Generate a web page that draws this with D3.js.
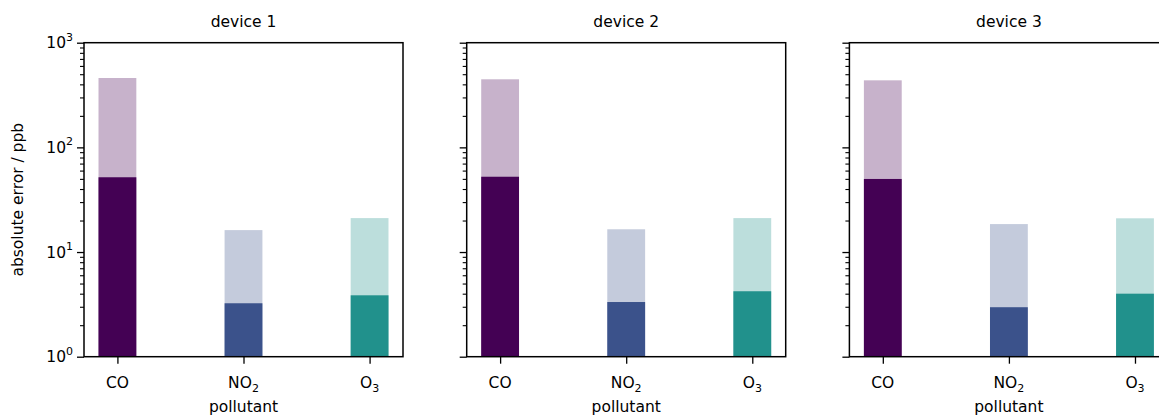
<!DOCTYPE html>
<html>
<head>
<meta charset="UTF-8">
<style>
  body { margin: 0; background: #fff; }
  svg { font-family: "DejaVu Sans", sans-serif; }
  .domain { display: none; }
</style>
</head>
<body>
<svg id="chart" width="1159" height="417"></svg>
<script src="https://d3js.org/d3.v7.min.js"></script>
<script>
  // data
  const devices = ["device 1", "device 2", "device 3"];
  const pollutants = ["CO", "NO2", "O3"];
  const colors = ["#440154", "#3b528b", "#21918c"];
  const totalErr = [
    [460, 16.2, 21.1],
    [447, 16.5, 21.1],
    [437, 18.5, 21.0]
  ];
  const partErr = [
    [51.8, 3.24, 3.86],
    [52.4, 3.33, 4.22],
    [49.9, 2.97, 4.0]
  ];
  const yTicks = [1, 10, 100, 1000];

  let svg = d3.select("#chart");

  let left0 = 84, top0 = 42.7, panelW = 319, panelH = 314, step = 382.7;
  let barW = 0.3;
  let fs = "15.5px";

  let x = d3.scaleLinear().domain([-0.265, 2.265]).range([0, panelW]);
  let y = d3.scaleLog().domain([1, 1000]).range([panelH, 0]);

  let minorTicks = [];
  for (let d = 1; d < 1000; d *= 10) {
    for (let m = 2; m <= 9; m++) minorTicks.push(d * m);
  }

  function label(sel, name) {
    // chemical names with subscripts
    let m = name.match(/^([A-Za-z]+)(\d*)$/);
    sel.text(m[1]);
    if (m[2]) {
      sel.append("tspan").attr("dy", 4).style("font-size", "11px").text(m[2]);
    }
  }

  devices.forEach(function (dev, k) {
    let g = svg.append("g")
      .attr("transform", "translate(" + (left0 + k * step) + "," + top0 + ")");

    // light bars (total)
    g.selectAll(".total")
      .data(totalErr[k])
      .enter()
      .append("rect")
      .attr("x", (d, i) => x(i - barW / 2))
      .attr("width", x(barW) - x(0))
      .attr("y", d => y(d))
      .attr("height", d => y(1) - y(d))
      .attr("fill", (d, i) => colors[i])
      .attr("fill-opacity", 0.3);

    // dark bars
    g.selectAll(".part")
      .data(partErr[k])
      .enter()
      .append("rect")
      .attr("x", (d, i) => x(i - barW / 2))
      .attr("width", x(barW) - x(0))
      .attr("y", d => y(d))
      .attr("height", d => y(1) - y(d))
      .attr("fill", (d, i) => colors[i]);

    // frame
    g.append("rect")
      .attr("width", panelW)
      .attr("height", panelH)
      .attr("fill", "none")
      .attr("stroke", "#000")
      .attr("stroke-width", 1.5);

    // y axis major + minor
    let yAxis = d3.axisLeft(y).tickValues(yTicks).tickSize(7).tickFormat("");
    let ya = g.append("g").call(yAxis);
    ya.selectAll("line").attr("stroke-width", 1.3);
    let yMinor = d3.axisLeft(y).tickValues(minorTicks).tickSize(4).tickFormat("");
    let ym = g.append("g").call(yMinor);
    ym.selectAll("line").attr("stroke-width", 1.1);

    if (k === 0) {
      yTicks.forEach(function (t) {
        let txt = g.append("text")
          .attr("x", -11)
          .attr("y", y(t) + 5.5)
          .attr("text-anchor", "end")
          .style("font-size", fs)
          .text("10");
        txt.append("tspan")
          .attr("dy", -7.5)
          .style("font-size", "11px")
          .text(Math.round(Math.log10(t)));
      });
      g.append("text")
        .attr("transform", "translate(" + (-61) + "," + (panelH / 2) + ") rotate(-90)")
        .attr("text-anchor", "middle")
        .style("font-size", fs)
        .text("absolute error / ppb");
    }

    // x axis
    let xAxis = d3.axisBottom(x).tickValues([0, 1, 2]).tickSize(7).tickFormat("");
    let xa = g.append("g").attr("transform", "translate(0," + panelH + ")").call(xAxis);
    xa.selectAll("line").attr("stroke-width", 1.3);

    pollutants.forEach(function (p, i) {
      g.append("text")
        .attr("x", x(i))
        .attr("y", panelH + 31.5)
        .attr("text-anchor", "middle")
        .style("font-size", fs)
        .call(label, p);
    });

    g.append("text")
      .attr("x", panelW / 2)
      .attr("y", panelH + 55)
      .attr("text-anchor", "middle")
      .style("font-size", fs)
      .text("pollutant");

    g.append("text")
      .attr("x", panelW / 2)
      .attr("y", -16)
      .attr("text-anchor", "middle")
      .style("font-size", fs)
      .text(dev);
  });
</script>
</body>
</html>
